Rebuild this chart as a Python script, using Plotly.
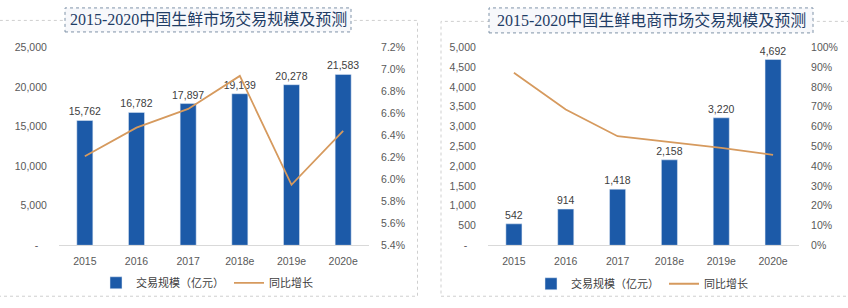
import plotly.graph_objects as go

# ---------------- data ----------------
years = ["2015", "2016", "2017", "2018e", "2019e", "2020e"]

fresh_scale = [15762, 16782, 17897, 19139, 20278, 21583]          # 亿元
fresh_growth = [6.21, 6.47, 6.64, 6.94, 5.95, 6.44]              # %

ecom_scale = [542, 914, 1418, 2158, 3220, 4692]                   # 亿元
ecom_growth = [87.2, 68.6, 55.1, 52.2, 49.2, 45.7]                # %

title_left = "2015-2020中国生鲜市场交易规模及预测"
title_right = "2015-2020中国生鲜电商市场交易规模及预测"
bar_name = "交易规模（亿元）"
line_name = "同比增长"

left_y_ticks = [0, 5000, 10000, 15000, 20000, 25000]
left_y2_ticks = [5.4, 5.6, 5.8, 6.0, 6.2, 6.4, 6.6, 6.8, 7.0, 7.2]
right_y_ticks = [0, 500, 1000, 1500, 2000, 2500, 3000, 3500, 4000, 4500, 5000]
right_y2_ticks = [0, 10, 20, 30, 40, 50, 60, 70, 80, 90, 100]

# ---------------- styles ----------------
W, H = 848, 308
BAR = "#1c5aa8"
LINE = "#d69a5e"
TXT = "#595959"
NUM_FONT = dict(family="Liberation Sans, Arial", size=10.5, color=TXT)
LBL_FONT = dict(family="Liberation Sans, Arial", size=10.5, color="#404040")
CJK_FONT = dict(family="Noto Sans CJK SC", size=11, color="#404040")
TITLE_FONT = dict(family="Liberation Serif, Noto Sans CJK SC", size=16, color="#1f3d66")


def px_x(x):
    return x / W


def px_y(y):
    return 1 - y / H


def fmt_int(v):
    return "-\u00a0\u00a0\u00a0" if v == 0 else f"{v:,}"


fig = go.Figure()

# left chart
fig.add_trace(go.Bar(x=years, y=fresh_scale, name=bar_name, marker_color=BAR,
                     text=[f"{v:,}" for v in fresh_scale], textposition="outside",
                     textfont=LBL_FONT, outsidetextfont=LBL_FONT, constraintext="none",
                     cliponaxis=False, xaxis="x", yaxis="y", legend="legend"))
fig.add_trace(go.Scatter(x=years, y=fresh_growth, name=line_name, mode="lines",
                         line=dict(color=LINE, width=1.8),
                         xaxis="x", yaxis="y2", legend="legend"))
# right chart
fig.add_trace(go.Bar(x=years, y=ecom_scale, name=bar_name, marker_color=BAR,
                     text=[f"{v:,}" for v in ecom_scale], textposition="outside",
                     textfont=LBL_FONT, outsidetextfont=LBL_FONT, constraintext="none",
                     cliponaxis=False, xaxis="x2", yaxis="y3", legend="legend2"))
fig.add_trace(go.Scatter(x=years, y=ecom_growth, name=line_name, mode="lines",
                         line=dict(color=LINE, width=1.8),
                         xaxis="x2", yaxis="y4", legend="legend2"))

ydom = [px_y(249), px_y(43)]

xcommon = dict(showline=True, linecolor="#d9d9d9", linewidth=1, showgrid=False,
               zeroline=False, ticks="outside", ticklen=6, tickcolor="rgba(0,0,0,0)",
               tickfont=NUM_FONT, fixedrange=True)
ycommon = dict(showgrid=False, zeroline=False, showline=False, ticks="outside",
               ticklen=9, tickcolor="rgba(0,0,0,0)", tickfont=NUM_FONT, fixedrange=True)

fig.update_layout(
    width=W, height=H,
    margin=dict(l=0, r=0, t=0, b=0),
    paper_bgcolor="white", plot_bgcolor="white",
    bargap=0.69,
    showlegend=True,
    uniformtext=dict(mode=False),
    xaxis=dict(domain=[px_x(59), px_x(369)], anchor="y", **xcommon),
    yaxis=dict(domain=ydom, anchor="x", range=[0, 25000],
               tickvals=left_y_ticks, ticktext=[fmt_int(v) for v in left_y_ticks], **ycommon),
    yaxis2=dict(overlaying="y", side="right", anchor="x", range=[5.4, 7.2],
                tickvals=left_y2_ticks, ticktext=[f"{v:.1f}%" for v in left_y2_ticks], **ycommon),
    xaxis2=dict(domain=[px_x(488), px_x(799)], anchor="y3", **xcommon),
    yaxis3=dict(domain=ydom, anchor="x2", range=[0, 5000],
                tickvals=right_y_ticks, ticktext=[fmt_int(v) for v in right_y_ticks], **ycommon),
    yaxis4=dict(overlaying="y3", side="right", anchor="x2", range=[0, 100],
                tickvals=right_y2_ticks, ticktext=[f"{v}%" for v in right_y2_ticks], **ycommon),
    legend=dict(orientation="h", x=px_x(96), y=px_y(288), xanchor="left", yanchor="middle",
                font=CJK_FONT, bgcolor="rgba(0,0,0,0)"),
    legend2=dict(orientation="h", x=px_x(531), y=px_y(289), xanchor="left", yanchor="middle",
                 font=CJK_FONT, bgcolor="rgba(0,0,0,0)"),
)

# panel frames
frame = dict(type="rect", xref="paper", yref="paper", layer="below",
             line=dict(color="#cfcfcf", width=1, dash="dot"), fillcolor="rgba(0,0,0,0)")
fig.add_shape(x0=px_x(-2), x1=px_x(417.5), y0=px_y(302), y1=px_y(15), **frame)
fig.add_shape(x0=px_x(441), x1=px_x(850), y0=px_y(302), y1=px_y(16), **frame)

# title boxes
tbox = dict(type="rect", xref="paper", yref="paper", layer="above",
            line=dict(color="#7f93a8", width=1, dash="dot"), fillcolor="#f7f8fb")
fig.add_shape(x0=px_x(65), x1=px_x(351), y0=px_y(27), y1=px_y(2), **tbox)
fig.add_shape(x0=px_x(489), x1=px_x(813), y0=px_y(28), y1=px_y(2), **tbox)

fig.add_annotation(text=title_left, x=px_x(208), y=px_y(14.5), xref="paper", yref="paper",
                   showarrow=False, font=TITLE_FONT, xanchor="center", yanchor="middle")
fig.add_annotation(text=title_right, x=px_x(651), y=px_y(15), xref="paper", yref="paper",
                   showarrow=False, font=TITLE_FONT, xanchor="center", yanchor="middle")

fig.write_html("out.html", config={"displayModeBar": False})
